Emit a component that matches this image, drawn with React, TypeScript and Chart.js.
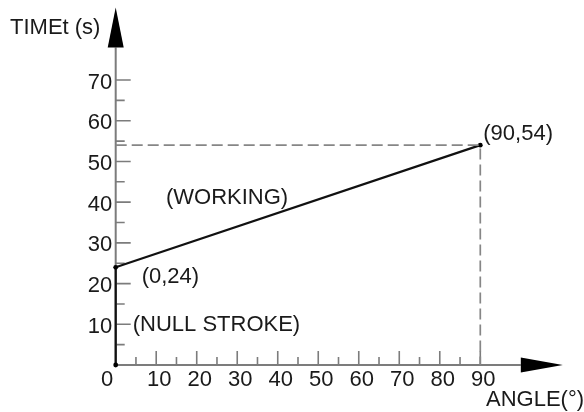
import { useEffect, useRef } from "react";
import { Chart, registerables } from "chart.js";

Chart.register(...registerables);

// ---- data ----
const strokeAngles = [0, 0, 90];
const strokeTimes = [0, 24, 54];
const guideAngles = [0, 90, 90];
const guideTimes = [54, 54, 0];

const xTickValues = [10, 20, 30, 40, 50, 60, 70, 80, 90];
const xTickLabels = ["10", "20", "30", "40", "50", "60", "70", "80", "90"];
const xMinorTicks = [5, 15, 25, 35, 45, 55, 65, 75, 85];
const yTickValues = [10, 20, 30, 40, 50, 60, 70];
const yTickLabels = ["10", "20", "30", "40", "50", "60", "70"];
const yMinorTicks = [5, 15, 25, 35, 45, 55, 65];
const originLabel = "0";

const pointLabelTexts = ["(0,24)", "(90,54)"];
const pointLabelIndex = [1, 2];
const phaseLabels = ["(WORKING)", "(NULL STROKE)"];
const phaseAngles = [12.4, 4.2];
const phaseTimes = [39.5, 8.3];

const yTitle = "TIMEt (s)";
const xTitle = "ANGLE(°)";
const xAxisEnd = 100;
const yAxisEnd = 78;

const FONT = "'Liberation Sans', Arial, sans-serif";
const AXIS = "#7c7c7c";

const axesPlugin = {
  id: "sketchAxes",
  beforeDatasetsDraw(chart: any) {
    const ctx = chart.ctx;
    const xs = chart.scales.x;
    const ys = chart.scales.y;
    const x0 = xs.getPixelForValue(0);
    const y0 = ys.getPixelForValue(0);
    const xEnd = xs.getPixelForValue(xAxisEnd);
    const yEnd = ys.getPixelForValue(yAxisEnd);
    ctx.save();
    ctx.strokeStyle = AXIS;
    ctx.lineWidth = 2;
    ctx.beginPath();
    ctx.moveTo(x0, y0);
    ctx.lineTo(x0, yEnd);
    ctx.moveTo(x0, y0);
    ctx.lineTo(xEnd, y0);
    ctx.stroke();
    ctx.lineWidth = 1.6;
    ctx.beginPath();
    for (const v of yTickValues) {
      const p = ys.getPixelForValue(v);
      ctx.moveTo(x0, p);
      ctx.lineTo(x0 + 15, p);
    }
    for (const v of yMinorTicks) {
      const p = ys.getPixelForValue(v);
      ctx.moveTo(x0, p);
      ctx.lineTo(x0 + 9, p);
    }
    for (const v of xTickValues) {
      const p = xs.getPixelForValue(v);
      ctx.moveTo(p, y0);
      ctx.lineTo(p, y0 - 14);
    }
    for (const v of xMinorTicks) {
      const p = xs.getPixelForValue(v);
      ctx.moveTo(p, y0);
      ctx.lineTo(p, y0 - 8);
    }
    ctx.stroke();
    // arrows
    ctx.fillStyle = "#000";
    ctx.beginPath();
    ctx.moveTo(x0, yEnd - 40);
    ctx.lineTo(x0 - 8, yEnd);
    ctx.lineTo(x0 + 8, yEnd);
    ctx.closePath();
    ctx.fill();
    ctx.beginPath();
    ctx.moveTo(xEnd + 42, y0);
    ctx.lineTo(xEnd, y0 - 7.5);
    ctx.lineTo(xEnd, y0 + 7.5);
    ctx.closePath();
    ctx.fill();
    ctx.restore();
  },
  afterDatasetsDraw(chart: any) {
    const ctx = chart.ctx;
    const xs = chart.scales.x;
    const ys = chart.scales.y;
    const x0 = xs.getPixelForValue(0);
    const y0 = ys.getPixelForValue(0);
    ctx.save();
    ctx.fillStyle = "#1a1a1a";
    ctx.textBaseline = "alphabetic";
    ctx.font = `22px ${FONT}`;
    ctx.textAlign = "right";
    yTickValues.forEach((v, i) => {
      ctx.fillText(yTickLabels[i], x0 - 3.5, ys.getPixelForValue(v) + 8.5);
    });
    ctx.fillText(originLabel, x0 - 2.5, y0 + 21);
    ctx.textAlign = "center";
    xTickValues.forEach((v, i) => {
      ctx.fillText(xTickLabels[i], xs.getPixelForValue(v) + 3, y0 + 21);
    });
    ctx.textAlign = "left";
    ctx.fillText(yTitle, 10, 33.5);
    ctx.fillText(xTitle, 486, 406);
    // point labels
    const px0 = xs.getPixelForValue(strokeAngles[pointLabelIndex[0]]);
    const py0 = ys.getPixelForValue(strokeTimes[pointLabelIndex[0]]);
    ctx.fillText(pointLabelTexts[0], px0 + 26, py0 + 16);
    const px1 = xs.getPixelForValue(strokeAngles[pointLabelIndex[1]]);
    const py1 = ys.getPixelForValue(strokeTimes[pointLabelIndex[1]]);
    ctx.fillText(pointLabelTexts[1], px1 + 3, py1 - 5);
    phaseLabels.forEach((t, i) => {
      ctx.fillText(t, xs.getPixelForValue(phaseAngles[i]), ys.getPixelForValue(phaseTimes[i]));
    });
    ctx.restore();
  },
};

export default function App() {
  const ref = useRef<HTMLCanvasElement | null>(null);
  useEffect(() => {
    if (!ref.current) return;
    const chart = new Chart(ref.current, {
      type: "scatter",
      data: {
        datasets: [
          {
            data: guideAngles.map((a, i) => ({ x: a, y: guideTimes[i] })),
            showLine: true,
            borderColor: "#868686",
            borderWidth: 1.7,
            borderDash: [11, 5],
            pointRadius: 0,
            clip: false,
          } as any,
          {
            data: strokeAngles.map((a, i) => ({ x: a, y: strokeTimes[i] })),
            showLine: true,
            borderColor: "#111",
            borderWidth: 2.2,
            pointRadius: 2.4,
            pointBackgroundColor: "#000",
            pointBorderWidth: 0,
            clip: false,
          } as any,
        ],
      },
      options: {
        animation: false,
        responsive: true,
        maintainAspectRatio: false,
        layout: { padding: { left: 115.7, right: 63.2, top: 39.3, bottom: 47 } },
        scales: {
          x: { type: "linear", min: 0, max: 100, display: false },
          y: { type: "linear", min: 0, max: 80, display: false },
        },
        plugins: { legend: { display: false }, tooltip: { enabled: false } },
        events: [],
      },
      plugins: [axesPlugin],
    });
    return () => chart.destroy();
  }, []);
  return (
    <div style={{ position: "fixed", left: 0, top: 0, width: 584, height: 412, background: "#fff" }}>
      <canvas ref={ref} />
    </div>
  );
}
